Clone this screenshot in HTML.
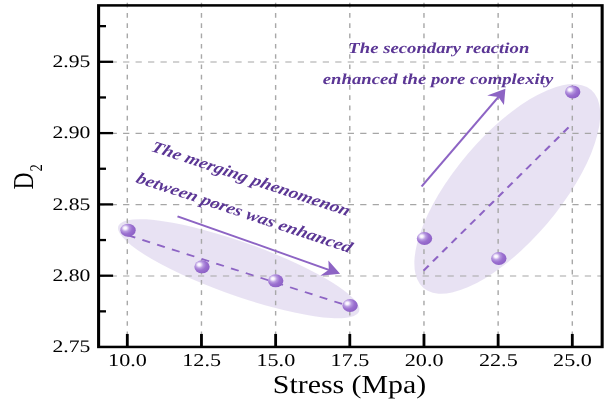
<!DOCTYPE html>
<html lang="en"><head><meta charset="utf-8"><title>D2 vs Stress</title>
<style>html,body{margin:0;padding:0;background:#fff}svg{display:block;will-change:transform}text{text-rendering:geometricPrecision}</style>
</head><body>
<svg width="607" height="404" viewBox="0 0 607 404">
<defs>
<radialGradient id="sph" cx="0.36" cy="0.36" r="0.72" fx="0.31" fy="0.33"><stop offset="0" stop-color="#ffffff"/><stop offset="0.14" stop-color="#f6f0fd"/><stop offset="0.36" stop-color="#b799e0"/><stop offset="0.60" stop-color="#9b70d0"/><stop offset="1" stop-color="#8a5dc4"/></radialGradient>
</defs>
<rect width="607" height="404" fill="#ffffff"/>
<g transform="scale(1.23,1)">
<ellipse cx="194.06" cy="268.71" rx="106.8" ry="25.95" transform="rotate(24.04 194.06 268.71)" fill="#7855b9" fill-opacity="0.17"/>
<ellipse cx="412.43" cy="188.89" rx="120.7" ry="46.15" transform="rotate(-57.56 412.43 188.89)" fill="#7855b9" fill-opacity="0.17"/>
<line x1="103.50" y1="2.8" x2="103.50" y2="334.95" stroke="#a8a8a8" stroke-width="1.15" stroke-dasharray="4.7 5.57"/>
<line x1="163.79" y1="2.8" x2="163.79" y2="334.95" stroke="#a8a8a8" stroke-width="1.15" stroke-dasharray="4.7 5.57"/>
<line x1="224.09" y1="2.8" x2="224.09" y2="334.95" stroke="#a8a8a8" stroke-width="1.15" stroke-dasharray="4.7 5.57"/>
<line x1="284.39" y1="2.8" x2="284.39" y2="334.95" stroke="#a8a8a8" stroke-width="1.15" stroke-dasharray="4.7 5.57"/>
<line x1="344.69" y1="2.8" x2="344.69" y2="334.95" stroke="#a8a8a8" stroke-width="1.15" stroke-dasharray="4.7 5.57"/>
<line x1="404.99" y1="2.8" x2="404.99" y2="334.95" stroke="#a8a8a8" stroke-width="1.15" stroke-dasharray="4.7 5.57"/>
<line x1="465.29" y1="2.8" x2="465.29" y2="334.95" stroke="#a8a8a8" stroke-width="1.15" stroke-dasharray="4.7 5.57"/>
<line x1="79.76" y1="275.95" x2="489.55" y2="275.95" stroke="#a6a6a6" stroke-width="1.1" stroke-dasharray="5.1 5.046"/>
<line x1="79.76" y1="204.65" x2="489.55" y2="204.65" stroke="#a6a6a6" stroke-width="1.1" stroke-dasharray="5.1 5.046"/>
<line x1="79.76" y1="133.35" x2="489.55" y2="133.35" stroke="#a6a6a6" stroke-width="1.1" stroke-dasharray="5.1 5.046"/>
<line x1="79.76" y1="62.05" x2="489.55" y2="62.05" stroke="#a6a6a6" stroke-width="1.1" stroke-dasharray="5.1 5.046"/>
<line x1="103.74" y1="235.1" x2="284.55" y2="306.5" stroke="#8d64c4" stroke-width="1.8" stroke-dasharray="6.7 6.21"/>
<line x1="344.39" y1="270.6" x2="463.09" y2="126.3" stroke="#8d64c4" stroke-width="1.8" stroke-dasharray="6.5 5.43"/>
<line x1="144.31" y1="216.30" x2="267.33" y2="269.81" stroke="#8d64c4" stroke-width="1.8"/>
<polygon points="276.50,273.80 260.36,275.83 267.33,269.81 266.98,260.60" fill="#8d64c4"/>
<line x1="342.76" y1="186.60" x2="405.18" y2="96.91" stroke="#8d64c4" stroke-width="1.8"/>
<polygon points="410.89,88.70 409.71,104.93 405.18,96.91 396.08,95.45" fill="#8d64c4"/>
<ellipse cx="104.07" cy="230.20" rx="6.25" ry="6.5" fill="url(#sph)"/>
<ellipse cx="164.23" cy="266.80" rx="6.25" ry="6.5" fill="url(#sph)"/>
<ellipse cx="224.15" cy="280.80" rx="6.25" ry="6.5" fill="url(#sph)"/>
<ellipse cx="284.63" cy="305.50" rx="6.25" ry="6.5" fill="url(#sph)"/>
<ellipse cx="345.12" cy="238.50" rx="6.25" ry="6.5" fill="url(#sph)"/>
<ellipse cx="405.53" cy="258.50" rx="6.25" ry="6.5" fill="url(#sph)"/>
<ellipse cx="465.61" cy="91.90" rx="6.25" ry="6.5" fill="url(#sph)"/>
<rect x="80.16" y="5.40" width="409.39" height="341.55" fill="none" stroke="#000" stroke-width="2.5"/>
<line x1="80.16" y1="275.70" x2="91.96" y2="275.70" stroke="#000" stroke-width="2.3"/>
<line x1="80.16" y1="204.40" x2="91.96" y2="204.40" stroke="#000" stroke-width="2.3"/>
<line x1="80.16" y1="133.10" x2="91.96" y2="133.10" stroke="#000" stroke-width="2.3"/>
<line x1="80.16" y1="61.80" x2="91.96" y2="61.80" stroke="#000" stroke-width="2.3"/>
<line x1="80.16" y1="311.35" x2="86.16" y2="311.35" stroke="#000" stroke-width="2.3"/>
<line x1="80.16" y1="240.05" x2="86.16" y2="240.05" stroke="#000" stroke-width="2.3"/>
<line x1="80.16" y1="168.75" x2="86.16" y2="168.75" stroke="#000" stroke-width="2.3"/>
<line x1="80.16" y1="97.45" x2="86.16" y2="97.45" stroke="#000" stroke-width="2.3"/>
<line x1="80.16" y1="26.15" x2="86.16" y2="26.15" stroke="#000" stroke-width="2.3"/>
<line x1="103.50" y1="346.95" x2="103.50" y2="333.95" stroke="#000" stroke-width="2.3"/>
<line x1="163.79" y1="346.95" x2="163.79" y2="333.95" stroke="#000" stroke-width="2.3"/>
<line x1="224.09" y1="346.95" x2="224.09" y2="333.95" stroke="#000" stroke-width="2.3"/>
<line x1="284.39" y1="346.95" x2="284.39" y2="333.95" stroke="#000" stroke-width="2.3"/>
<line x1="344.69" y1="346.95" x2="344.69" y2="333.95" stroke="#000" stroke-width="2.3"/>
<line x1="404.99" y1="346.95" x2="404.99" y2="333.95" stroke="#000" stroke-width="2.3"/>
<line x1="465.29" y1="346.95" x2="465.29" y2="333.95" stroke="#000" stroke-width="2.3"/>
<text x="73.41" y="352.30" font-family="'Liberation Serif', serif" font-size="17.6" text-anchor="end" fill="#000">2.75</text>
<text x="73.41" y="281.00" font-family="'Liberation Serif', serif" font-size="17.6" text-anchor="end" fill="#000">2.80</text>
<text x="73.41" y="209.70" font-family="'Liberation Serif', serif" font-size="17.6" text-anchor="end" fill="#000">2.85</text>
<text x="73.41" y="138.40" font-family="'Liberation Serif', serif" font-size="17.6" text-anchor="end" fill="#000">2.90</text>
<text x="73.41" y="67.10" font-family="'Liberation Serif', serif" font-size="17.6" text-anchor="end" fill="#000">2.95</text>
<text x="103.66" y="366.3" font-family="'Liberation Serif', serif" font-size="18.0" text-anchor="middle" fill="#000">10.0</text>
<text x="163.96" y="366.3" font-family="'Liberation Serif', serif" font-size="18.0" text-anchor="middle" fill="#000">12.5</text>
<text x="224.26" y="366.3" font-family="'Liberation Serif', serif" font-size="18.0" text-anchor="middle" fill="#000">15.0</text>
<text x="284.55" y="366.3" font-family="'Liberation Serif', serif" font-size="18.0" text-anchor="middle" fill="#000">17.5</text>
<text x="344.85" y="366.3" font-family="'Liberation Serif', serif" font-size="18.0" text-anchor="middle" fill="#000">20.0</text>
<text x="405.15" y="366.3" font-family="'Liberation Serif', serif" font-size="18.0" text-anchor="middle" fill="#000">22.5</text>
<text x="465.45" y="366.3" font-family="'Liberation Serif', serif" font-size="18.0" text-anchor="middle" fill="#000">25.0</text>
<text x="284.15" y="392.6" font-family="'Liberation Serif', serif" font-size="25.8" text-anchor="middle" fill="#000" textLength="124.7" lengthAdjust="spacingAndGlyphs">Stress (Mpa)</text>
<text transform="translate(26.59 189.4) rotate(-90)" font-family="'Liberation Serif', serif" font-size="23.5" fill="#000">D<tspan font-size="14.5" dy="7.2" dx="0.8">2</tspan></text>
<text x="356.75" y="53.1" font-family="'Liberation Serif', serif" font-weight="bold" font-style="italic" font-size="15.2" text-anchor="middle" fill="#5b3695" textLength="147.15" lengthAdjust="spacing">The secondary reaction</text>
<text x="356.10" y="83.6" font-family="'Liberation Serif', serif" font-weight="bold" font-style="italic" font-size="15.2" text-anchor="middle" fill="#5b3695" textLength="187.40" lengthAdjust="spacing">enhanced the pore complexity</text>
<text transform="translate(121.95 150.7) rotate(22.2)" font-family="'Liberation Serif', serif" font-weight="bold" font-style="italic" font-size="15.8" fill="#5b3695" textLength="173.2" lengthAdjust="spacing">The merging phenomenon</text>
<text transform="translate(109.76 181.9) rotate(22.2)" font-family="'Liberation Serif', serif" font-weight="bold" font-style="italic" font-size="15.8" fill="#5b3695" textLength="188.2" lengthAdjust="spacing">between pores was enhanced</text>
</g></svg>
</body></html>
